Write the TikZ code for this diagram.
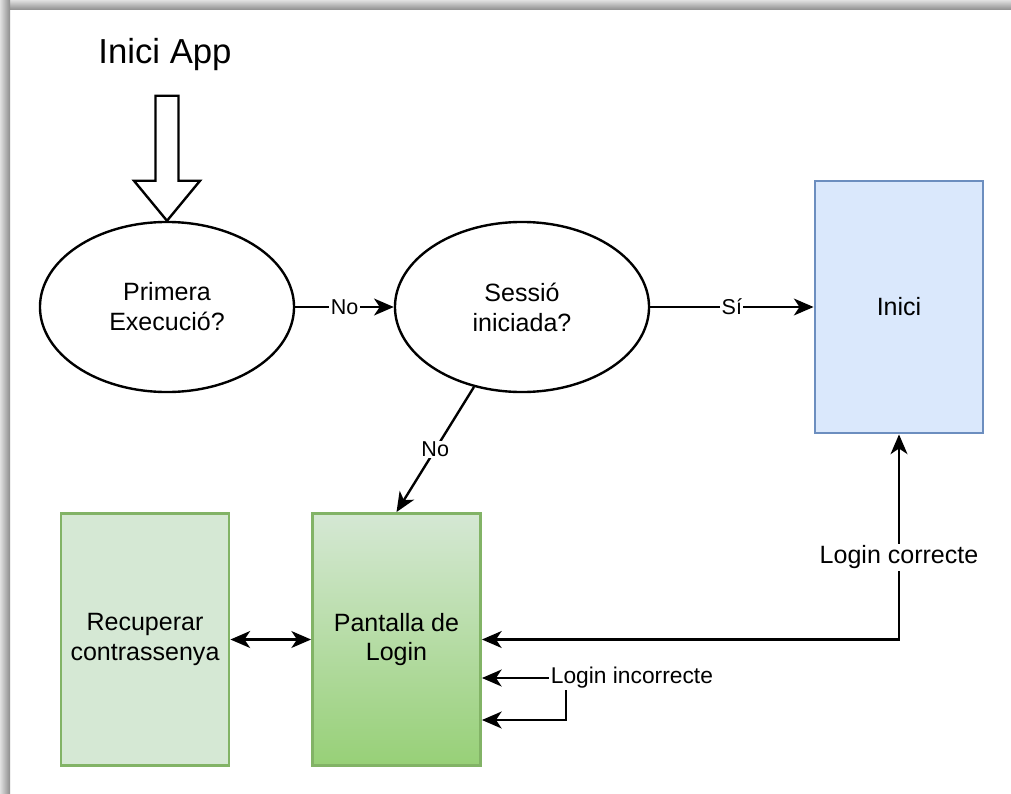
\documentclass[tikz,border=0pt]{standalone}
\usepackage{fontspec}
\setmainfont{Liberation Sans}
\usetikzlibrary{shapes.geometric,arrows.meta,calc}

\definecolor{blauclar}{HTML}{DAE8FC}
\definecolor{blauvora}{HTML}{6C8EBF}
\definecolor{verdclar}{HTML}{D5E8D4}
\definecolor{verdfosc}{HTML}{97D077}
\definecolor{verdvora}{HTML}{82B366}

\begin{document}
\begin{tikzpicture}[x=0.025cm, y=-0.025cm, line width=1.7pt,
	>={Stealth[length=14pt,width=12pt,inset=4pt]},
	txt/.style = {font=\fontsize{17.8}{21.3}\selectfont, align=center},
	decisio/.style = {ellipse, draw, fill=white, txt,
		minimum width = 6.35cm,
		minimum height = 4.25cm},
	pantalla/.style = {rectangle, draw, txt, line width=2pt,
		minimum width = 4.2cm,
		minimum height = 6.3cm},
	etiq/.style = {fill=white, inner sep=1pt,
		font=\fontsize{15.3}{18}\selectfont}]

	\useasboundingbox (0,0) rectangle (1011,794);
	\fill[white] (0,0) rectangle (1011,794);
	% ombra del marc
	\shade[top color=black!12, bottom color=black!45] (0,0) rectangle (1011,10);
	\shade[left color=black!12, right color=black!45] (0,0) rectangle (10,794);

	\node[font=\fontsize{24.7}{30}\selectfont] (titol) at (165,55) {Inici App};

	\node[decisio] (prim) at (167,307) {Primera\\Execució?};
	\node[decisio] (sess) at (522,307) {Sessió\\iniciada?};
	\node[pantalla, fill=blauclar, draw=blauvora] (inici) at (899,307) {Inici};
	\node[pantalla, top color=verdclar, bottom color=verdfosc, draw=verdvora]
		(login) at (396.5,639.5) {Pantalla de\\Login};
	\node[pantalla, fill=verdclar, draw=verdvora] (recup) at (145,639.5) {Recuperar\\contrassenya};

	% fletxa buida d'entrada
	\draw[fill=white, line join=miter] (prim.north) -- ++(-33,-40) -- ++(21.5,0) -- ++(0,-85)
		-- ++(23,0) -- ++(0,85) -- ++(21.5,0) -- cycle;

	\draw[->] (prim) -- node[etiq] {No} (sess);
	\draw[->] (sess) -- node[etiq] {Sí} (inici);
	\draw[->] (sess.-121) -- node[etiq] {No} (login.north);
	\draw[<->] (recup) -- (login);

	\draw[<->] (login.east) -| node[etiq, pos=0.7, txt, inner sep=1pt] {Login correcte} (inici.south);
	\draw[<->] ($(login.east)+(0,38.5)$) -- node[etiq, pos=0.79, anchor=west,
		font=\fontsize{16.2}{19}\selectfont] {Login incorrecte} ++(84,0)
		-- ++(0,42) -- ++(-84,0);

\end{tikzpicture}
\end{document}
